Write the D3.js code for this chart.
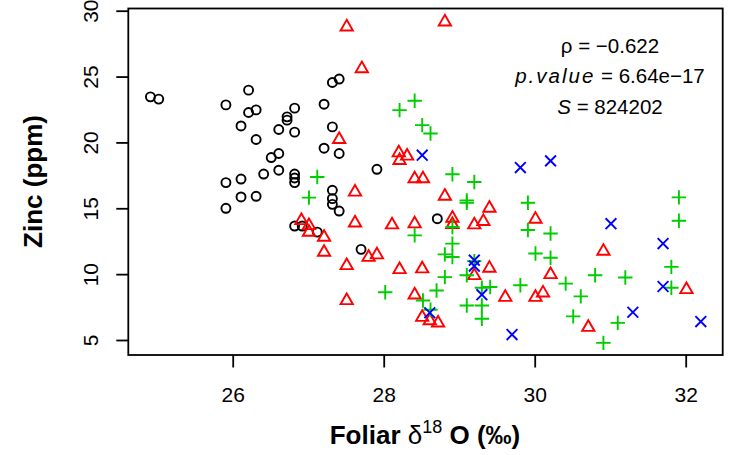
<!DOCTYPE html>
<html>
<head>
<meta charset="utf-8">
<script src="https://cdn.jsdelivr.net/npm/d3@7"></script>
<style>
  body { margin: 0; background: #fff; }
  svg { display: block; font-family: "Liberation Sans", Arial, Helvetica, sans-serif; }
</style>
</head>
<body>
<svg id="chart" width="730" height="455"></svg>
<script>
// Foliar δ18O (‰) against zinc (ppm), four sample groups
const circleX = [24.91, 25.02, 26.21, 25.91, 26.21, 26.31, 26.82, 26.72, 26.72, 26.11, 26.61, 26.82, 26.31,
  27.21, 27.32, 27.41, 27.32, 27.21, 27.41, 26.61, 26.51, 26.41, 26.61, 26.82, 26.82, 26.82, 26.11, 25.91,
  27.91, 26.11, 26.31, 25.91, 27.32, 27.32, 27.32, 27.41, 26.82, 26.92, 27.12, 27.70, 28.71];
const circleY = [23.46, 23.29, 23.97, 22.85, 22.27, 22.47, 22.60, 21.94, 21.69, 21.25, 20.98, 20.78, 20.22,
  22.90, 24.55, 24.81, 21.18, 19.56, 19.16, 19.16, 18.85, 17.60, 17.89, 17.60, 17.30, 16.95, 17.22, 16.95,
  17.96, 15.86, 15.91, 15.00, 16.37, 15.73, 15.30, 14.79, 13.65, 13.65, 13.19, 11.88, 14.21];

const triangleX = [27.51, 28.81, 27.71, 27.41, 28.20, 28.31, 28.21, 28.41, 28.52, 27.62, 28.81, 29.40, 28.91,
  28.91, 29.32, 29.20, 27.62, 28.11, 28.41, 27.21, 27.21, 26.91, 27.01, 27.01, 27.80, 27.91, 27.51, 28.21,
  28.51, 29.40, 29.20, 28.41, 27.51, 28.51, 28.61, 28.72, 29.61, 30.01, 30.21, 30.01, 30.11, 30.71, 30.91, 32.01];
const triangleY = [28.77, 29.15, 25.60, 20.23, 19.21, 18.96, 18.63, 17.24, 17.24, 16.23, 15.92, 15.01, 14.25,
  13.76, 14.00, 13.74, 13.89, 13.74, 13.82, 12.80, 11.66, 14.07, 13.69, 13.18, 11.28, 11.47, 10.65, 10.35,
  10.40, 10.45, 9.89, 8.42, 7.99, 6.72, 6.47, 6.29, 8.24, 14.17, 9.97, 8.24, 8.57, 5.96, 11.74, 8.83];

const plusX = [28.21, 28.41, 28.51, 28.62, 28.91, 29.20, 27.12, 27.01, 28.41, 28.91, 29.10, 29.10, 28.91,
  28.81, 28.91, 29.10, 28.81, 28.70, 28.02, 28.52, 28.62, 29.30, 29.41, 29.20, 29.10, 29.30, 29.30, 29.81,
  29.91, 29.91, 30.21, 30.01, 30.21, 30.41, 30.61, 30.51, 30.80, 31.20, 31.10, 30.91, 31.91, 31.91, 31.81, 31.81];
const plusY = [22.45, 23.16, 21.31, 20.68, 17.58, 17.00, 17.38, 15.81, 12.94, 13.58, 15.60, 15.42, 12.32,
  11.50, 11.30, 9.91, 9.77, 8.76, 8.63, 8.00, 7.30, 8.97, 9.02, 10.99, 7.62, 7.62, 6.61, 9.16,
  15.42, 13.35, 13.09, 11.57, 11.24, 9.28, 8.31, 6.79, 9.92, 9.75, 6.30, 4.78, 15.83, 14.05, 10.55, 8.97];

const crossX = [28.51, 29.81, 30.21, 29.20, 29.20, 29.30, 28.61, 29.70, 31.01, 31.70, 31.70, 31.30, 32.20];
const crossY = [19.03, 18.09, 18.60, 11.06, 10.61, 8.44, 7.07, 5.41, 13.83, 12.32, 9.06, 7.11, 6.40];

const xTicks = [26, 28, 30, 32];
const yTicks = [5, 10, 15, 20, 25, 30];

const statRho = "−0.622";
const statP = "6.64e−17";
const statS = "824202";

const svg = d3.select("#chart");

const x = d3.scaleLinear().domain([24.617, 32.49]).range([128.3, 722.7]);
const y = d3.scaleLinear().domain([3.861, 30.167]).range([355, 8.5]);

const markStroke = 1.9;

// Marker shapes, drawn around (0,0)
const circlePath = (() => { const p = d3.path(); p.arc(0, 0, 4.5, 0, 2 * Math.PI); return p.toString(); })();
const trianglePath = "M0,-7.1L6.15,3.55L-6.15,3.55Z";
const plusPath = "M-7.2,0H7.2M0,-7.2V7.2";
const crossPath = "M-5.4,-5.4L5.4,5.4M-5.4,5.4L5.4,-5.4";

function drawGroup(xs, ys, path, color) {
  svg.append("g")
    .selectAll("path")
    .data(xs.map((v, i) => [v, ys[i]]))
    .join("path")
    .attr("d", path)
    .attr("transform", d => `translate(${x(d[0])},${y(d[1])})`)
    .attr("fill", "none")
    .attr("stroke", color)
    .attr("stroke-width", markStroke);
}

drawGroup(circleX, circleY, circlePath, "#000000");
drawGroup(triangleX, triangleY, trianglePath, "#ff0000");
drawGroup(plusX, plusY, plusPath, "#00cd00");
drawGroup(crossX, crossY, crossPath, "#0000ff");

// Plot frame
svg.append("rect")
  .attr("x", 128.3).attr("y", 8.5)
  .attr("width", 722.7 - 128.3).attr("height", 355 - 8.5)
  .attr("fill", "none").attr("stroke", "#000").attr("stroke-width", 1.8);

// Bottom axis
const gx = svg.append("g")
  .attr("transform", "translate(0,355)")
  .call(d3.axisBottom(x).tickValues(xTicks).tickSize(12.5).tickFormat(d3.format("d")));
gx.select(".domain").remove();
gx.selectAll(".tick line").attr("stroke", "#000").attr("stroke-width", 1.8);
gx.selectAll(".tick text")
  .attr("y", 47).attr("dy", null)
  .attr("fill", "#000")
  .style("font-size", "21px")
  .style("font-family", "'Liberation Sans', Arial, sans-serif");

// Left axis with rotated labels
const gy = svg.append("g")
  .attr("transform", "translate(128.3,0)")
  .call(d3.axisLeft(y).tickValues(yTicks).tickSize(12).tickFormat(d3.format("d")));
gy.select(".domain").remove();
gy.selectAll(".tick line").attr("stroke", "#000").attr("stroke-width", 1.8);
gy.selectAll(".tick text")
  .attr("transform", "rotate(-90)")
  .attr("x", 0).attr("y", -30).attr("dy", null)
  .attr("text-anchor", "middle")
  .attr("fill", "#000")
  .style("font-size", "21px")
  .style("font-family", "'Liberation Sans', Arial, sans-serif");

// Axis titles
const xTitle = svg.append("text")
  .attr("x", 425).attr("y", 444)
  .attr("text-anchor", "middle")
  .style("font-size", "26px");
xTitle.append("tspan").attr("font-weight", "bold").text("Foliar ");
xTitle.append("tspan").text("δ");
xTitle.append("tspan").attr("dy", -11).style("font-size", "18px").text("18");
xTitle.append("tspan").attr("dy", 11).attr("font-weight", "bold").text(" O (‰)");

svg.append("text")
  .attr("transform", "translate(42,181.5) rotate(-90)")
  .attr("text-anchor", "middle")
  .attr("font-weight", "bold")
  .style("font-size", "26px")
  .text("Zinc (ppm)");

// Spearman correlation summary
const stats = svg.append("g").style("font-size", "20.5px").attr("fill", "#000");
const l1 = stats.append("text").attr("x", 610).attr("y", 52.7).attr("text-anchor", "middle");
l1.append("tspan").text("ρ = " + statRho);
const l2 = stats.append("text").attr("x", 610).attr("y", 82.7).attr("text-anchor", "middle");
l2.append("tspan").attr("font-style", "italic").style("letter-spacing", "2px").text("p.value");
l2.append("tspan").text(" = " + statP);
const l3 = stats.append("text").attr("x", 610).attr("y", 114).attr("text-anchor", "middle");
l3.append("tspan").attr("font-style", "italic").text("S");
l3.append("tspan").text(" = " + statS);
</script>
</body>
</html>
